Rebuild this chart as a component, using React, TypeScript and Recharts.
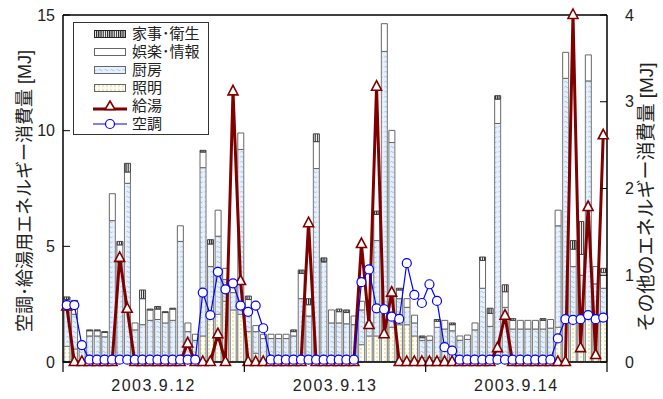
import { ComposedChart, Bar, Line, XAxis, YAxis, ReferenceLine, Legend } from "recharts";

// 72 hourly slots (3 days)
const hours = Array.from({ length: 72 }, (_, i) => i);
const days = ["2003.9.12", "2003.9.13", "2003.9.14"];

// left axis [MJ]
const kyuto = [
  2.4, 0, 0, 0, 0, 0, 0, 4.5, 2.3, 0,
  0, 0, 0, 0, 0, 0, 0.8, 0, 0, 0,
  1.2, 0, 11.7, 3.5, 0, 0, 0, 0, 0, 0,
  0, 0, 6.0, 0, 0, 0, 0, 0, 0, 5.1,
  1.6, 11.9, 1.2, 3.0, 0, 0, 0, 0, 0, 0,
  0, 0, 0, 0, 0, 0, 0, 0.6, 2.0, 0,
  0, 0, 0, 0, 0, 0, 0, 15.0, 0.6, 6.7,
  0.3, 9.8,
];
const kucho = [
  2.46, 2.46, 0.73, 0.1, 0.1, 0.1, 0.1, 0.1, 0.1, 0.1,
  0.1, 0.1, 0.1, 0.1, 0.1, 0.1, 0.1, 0.1, 3.0, 2.03,
  3.9, 3.14, 3.4, 2.44, 2.17, 2.44, 1.46, 0.1, 0.1, 0.1,
  0.1, 0.1, 0.1, 0.1, 0.1, 0.1, 0.1, 0.1, 0.1, 3.45,
  4.0, 2.32, 2.28, 1.96, 1.86, 4.27, 2.9, 2.55, 3.36, 2.64,
  0.64, 0.49, 0.1, 0.1, 0.1, 0.1, 0.1, 0.1, 0.1, 0.1,
  0.1, 0.1, 0.1, 0.1, 0.1, 1.02, 1.85, 1.82, 1.85, 2.03,
  1.85, 1.92,
];

// right axis [MJ], stacked bottom -> top
const shomei = [
  0.18, 0.15, 0.02, 0.02, 0.02, 0.02, 0.03, 0.05, 0.03, 0.02,
  0.03, 0.03, 0.03, 0.03, 0.03, 0.05, 0.05, 0.05, 0.3, 0.5,
  0.55, 0.7, 0.6, 0.55, 0.35, 0.1, 0.02, 0.02, 0.02, 0.02,
  0.02, 0.03, 0.03, 0.03, 0.03, 0.03, 0.03, 0.03, 0.03, 0.2,
  0.3, 0.3, 0.3, 0.4, 0.43, 0.43, 0.3, 0.05, 0.05, 0.05,
  0.03, 0.03, 0.02, 0.02, 0.02, 0.03, 0.03, 0.03, 0.03, 0.03,
  0.03, 0.03, 0.03, 0.03, 0.03, 0.4, 0.5, 0.5, 0.5, 0.5,
  0.5, 0.5,
];
const chubo = [
  0.42, 0.4, 0.15, 0.28, 0.28, 0.27, 1.6, 1.1, 2.03, 0.35,
  0.4, 0.45, 0.46, 0.42, 0.45, 1.34, 0.3, 0.2, 1.94, 0.6,
  0.9, 0.25, 0.2, 1.9, 0.25, 0.25, 0.25, 0.25, 0.25, 0.25,
  0.28, 0.7, 0.5, 2.2, 1.12, 0.42, 0.42, 0.41, 0.4, 0.4,
  0.1, 1.1, 3.28, 2.13, 0.3, 0.2, 0.15, 0.2, 0.2, 0.35,
  0.35, 0.33, 0.23, 0.24, 0.35, 0.82, 0.38, 2.72, 0.6, 0.35,
  0.35, 0.35, 0.35, 0.35, 0.36, 1.17, 2.77, 0.6, 0.5, 2.74,
  0.4, 0.35,
];
const goraku = [
  0.12, 0.13, 0.03, 0.06, 0.06, 0.05, 0.31, 0.2, 0.13, 0.08,
  0.3, 0.12, 0.12, 0.12, 0.13, 0.18, 0.1, 0.07, 0.18, 0.26,
  0.3, 0.13, 0.1, 0.19, 0.12, 0.07, 0.05, 0.05, 0.05, 0.05,
  0.05, 0.29, 0.13, 0.31, 0.01, 0.15, 0.13, 0.13, 0.1, 0.1,
  0.06, 0.3, 0.32, 0.14, 0.1, 0.1, 0.09, 0.03, 0.05, 0.07,
  0.1, 0.07, 0.05, 0.05, 0.08, 0.32, 0.15, 0.28, 0.18, 0.1,
  0.1, 0.1, 0.1, 0.1, 0.1, 0.18, 0.3, 0.2, 0.24, 0.3,
  0.2, 0.18,
];
const kaji = [
  0.03, 0.03, 0, 0.01, 0.01, 0.01, 0, 0.04, 0.1, 0,
  0.1, 0.01, 0.03, 0.01, 0.01, 0, 0, 0, 0.02, 0.05,
  0, 0, 0, 0, 0.04, 0, 0, 0, 0, 0,
  0.02, 0.04, 0.07, 0.09, 0.04, 0, 0.03, 0.03, 0, 0,
  0, 0.04, 0, 0, 0.02, 0, 0, 0.02, 0, 0.02,
  0, 0.02, 0, 0, 0, 0.04, 0.06, 0.04, 0.08, 0.02,
  0, 0, 0, 0.02, 0, 0, 0, 0.1, 0.38, 0,
  0, 0.05,
];

const data = hours.map((h, i) => ({
  hour: h,
  kyuto: kyuto[i],
  kucho: kucho[i],
  shomei: shomei[i],
  chubo: chubo[i],
  goraku: goraku[i],
  kaji: kaji[i],
}));

const dayEdges = [0, 1, 2, 3].map((d) => d * 24 - 0.5);
const dayMids = days.map((_, d) => d * 24 + 11.5);

const FONT = "'Liberation Sans', 'Noto Sans CJK JP', sans-serif";
const RED = "#800000";
const BLUE = "#0000ff";

function DayTick(props: any) {
  const { x, y, payload } = props;
  const idx = dayMids.indexOf(payload.value);
  if (idx >= 0) {
    return (
      <text x={x} y={y + 29} textAnchor="middle" fontSize={16} fill="#222" fontFamily={FONT} letterSpacing={1.5}>
        {days[idx]}
      </text>
    );
  }
  return <line x1={x} x2={x} y1={y} y2={y + 10} stroke="#000" strokeWidth={1.2} />;
}

function Tri(props: any) {
  const { cx, cy, key } = props;
  if (cx == null || cy == null) return null;
  return (
    <path
      key={key}
      d={`M${cx},${cy - 6} L${cx + 5},${cy + 3.5} L${cx - 5},${cy + 3.5} Z`}
      fill="#fff"
      stroke={RED}
      strokeWidth={1.6}
    />
  );
}

const legendItems = [
  { name: "家事･衛生", kind: "bar", fill: "url(#pKaji)", stroke: "#222" },
  { name: "娯楽･情報", kind: "bar", fill: "#fff", stroke: "#666" },
  { name: "厨房", kind: "bar", fill: "url(#pChubo)", stroke: "#666" },
  { name: "照明", kind: "bar", fill: "url(#pShomei)", stroke: "#666" },
  { name: "給湯", kind: "tri", fill: "", stroke: RED },
  { name: "空調", kind: "circle", fill: "", stroke: BLUE },
];

function LegendBox() {
  return (
    <div
      style={{
        border: "1px solid #333",
        background: "#fff",
        width: 134,
        padding: "2px 0 1px 0",
        fontFamily: FONT,
        fontSize: 15,
        color: "#222",
      }}
    >
      {legendItems.map((it) => (
        <div key={it.name} style={{ display: "flex", alignItems: "center", height: 18 }}>
          <svg width={56} height={14} style={{ display: "block" }}>
            {it.kind === "bar" && (
              <rect x={20.5} y={3.5} width={31} height={7} fill={it.fill} stroke={it.stroke} strokeWidth={1} />
            )}
            {it.kind === "tri" && (
              <g>
                <line x1={19} x2={53} y1={10} y2={10} stroke={RED} strokeWidth={3} />
                <path d="M36,2 L41,10.5 L31,10.5 Z" fill="#fff" stroke={RED} strokeWidth={1.6} />
              </g>
            )}
            {it.kind === "circle" && (
              <g>
                <line x1={19} x2={53} y1={7} y2={7} stroke={BLUE} strokeWidth={1.2} />
                <circle cx={36} cy={7} r={4.5} fill="#fff" stroke={BLUE} strokeWidth={1.2} />
              </g>
            )}
          </svg>
          <span style={{ marginLeft: 2, lineHeight: "18px" }}>{it.name}</span>
        </div>
      ))}
    </div>
  );
}

const tickStyle = { fontSize: 16, fill: "#222", fontFamily: FONT };

export default function App() {
  return (
    <div style={{ position: "absolute", left: 0, top: 0, width: 663, height: 399, background: "#fff" }}>
      <ComposedChart width={663} height={399} data={data} margin={{ top: 15, right: 0, bottom: 0, left: 0 }}>
        <defs>
          <pattern id="pKaji" width="2.2" height="4" patternUnits="userSpaceOnUse">
            <rect width="2.2" height="4" fill="#fff" />
            <rect width="1.2" height="4" fill="#222" />
          </pattern>
          <pattern id="pChubo" width="6" height="5" patternUnits="userSpaceOnUse">
            <rect width="6" height="5" fill="#e7f0fb" />
            <path d="M0.5 2 q1 -1.2 2 0 t2 0" stroke="#8db6e8" strokeWidth="0.9" fill="none" />
          </pattern>
          <pattern id="pShomei" width="4" height="4" patternUnits="userSpaceOnUse">
            <rect width="4" height="4" fill="#fdfdf0" />
            <circle cx="1" cy="1" r="0.7" fill="#c9c27a" />
          </pattern>
        </defs>
        <XAxis
          dataKey="hour"
          type="number"
          domain={[-0.5, 71.5]}
          ticks={[...dayEdges, ...dayMids]}
          interval={0}
          tick={<DayTick />}
          tickLine={false}
          tickSize={0}
          tickMargin={0}
          height={37}
          axisLine={{ stroke: "#000", strokeWidth: 1.5 }}
        />
        <YAxis
          yAxisId="left"
          orientation="left"
          width={63}
          domain={[0, 15]}
          ticks={[0, 5, 10, 15]}
          tickSize={-7}
          tickMargin={15}
          tick={tickStyle}
          tickLine={{ stroke: "#000" }}
          axisLine={{ stroke: "#000", strokeWidth: 1.5 }}
        />
        <YAxis
          yAxisId="right"
          orientation="right"
          width={56}
          domain={[0, 4]}
          ticks={[0, 1, 2, 3, 4]}
          tickSize={-7}
          tickMargin={25}
          tick={tickStyle}
          tickLine={{ stroke: "#000" }}
          axisLine={{ stroke: "#000", strokeWidth: 1.5 }}
        />
        <ReferenceLine yAxisId="left" y={15} stroke="#000" strokeWidth={1.5} />
        <Bar yAxisId="right" dataKey="shomei" name="照明" stackId="s" barSize={6} fill="url(#pShomei)" stroke="#777" strokeWidth={1} isAnimationActive={false} />
        <Bar yAxisId="right" dataKey="chubo" name="厨房" stackId="s" barSize={6} fill="url(#pChubo)" stroke="#777" strokeWidth={1} isAnimationActive={false} />
        <Bar yAxisId="right" dataKey="goraku" name="娯楽･情報" stackId="s" barSize={6} fill="#fff" stroke="#666" strokeWidth={1} isAnimationActive={false} />
        <Bar yAxisId="right" dataKey="kaji" name="家事･衛生" stackId="s" barSize={6} fill="url(#pKaji)" stroke="#444" strokeWidth={1} isAnimationActive={false} />
        <Line yAxisId="left" dataKey="kyuto" name="給湯" type="linear" stroke={RED} strokeWidth={3} dot={(p: any) => <Tri {...p} />} activeDot={false} isAnimationActive={false} />
        <Line yAxisId="left" dataKey="kucho" name="空調" type="linear" stroke={BLUE} strokeWidth={1.2} dot={{ r: 4.5, stroke: BLUE, fill: "#fff", strokeWidth: 1.2 }} activeDot={false} isAnimationActive={false} />
        <Legend
          layout="vertical"
          align="center"
          verticalAlign="middle"
          content={() => <LegendBox />}
          wrapperStyle={{ left: 73, top: 22, width: 136, height: "auto" }}
        />
      </ComposedChart>
      <div
        style={{
          position: "absolute",
          left: 23,
          top: 191,
          transform: "translate(-50%, -50%) rotate(-90deg)",
          whiteSpace: "nowrap",
          fontFamily: FONT,
          fontSize: 18,
          color: "#222",
        }}
      >
        空調･給湯用エネルギー消費量 [MJ]
      </div>
      <div
        style={{
          position: "absolute",
          left: 644,
          top: 197,
          transform: "translate(-50%, -50%) rotate(-90deg)",
          whiteSpace: "nowrap",
          fontFamily: FONT,
          fontSize: 19,
          color: "#222",
        }}
      >
        その他のエネルギー消費量 [MJ]
      </div>
    </div>
  );
}
